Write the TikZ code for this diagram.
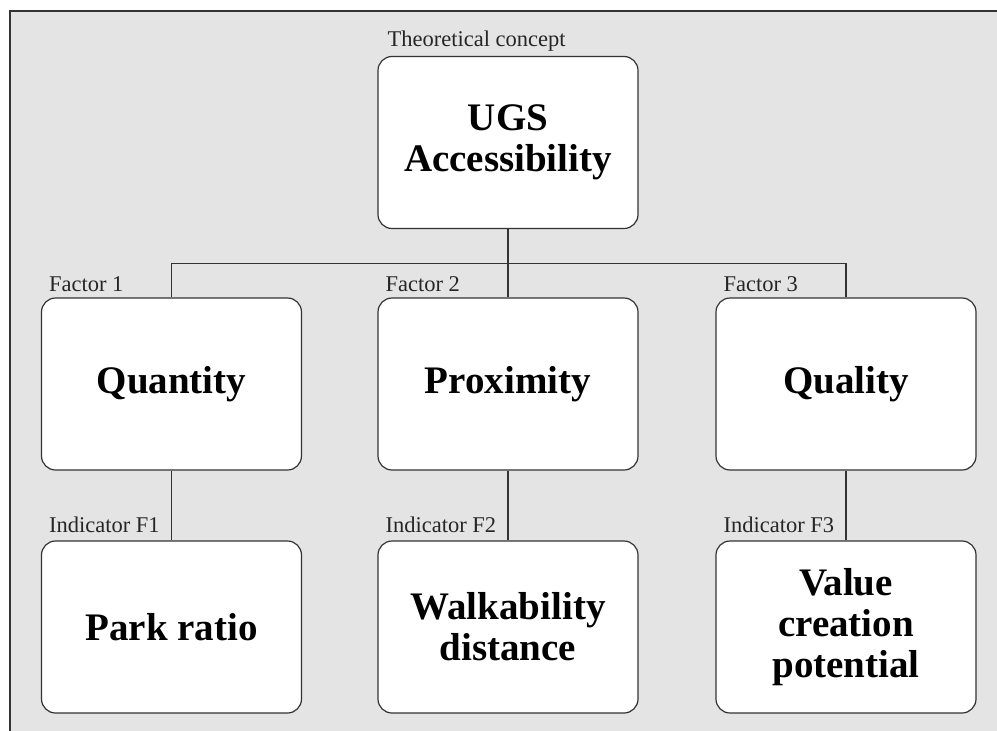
\documentclass[tikz,border=0pt]{standalone}
\usepackage{fontspec}
\setmainfont{Liberation Serif}
\definecolor{bggray}{HTML}{E4E4E4}
\definecolor{edge}{HTML}{333333}
\tikzset{
  box/.style={draw=edge, fill=white, line width=1.2pt, rounded corners=14pt,
    minimum width=260pt, minimum height=172pt, inner sep=0pt, align=center,
    font=\fontsize{39}{41}\selectfont\bfseries},
  lab/.style={anchor=base west, inner sep=0pt, text=black!85,
    font=\fontsize{22.5}{27}\selectfont},
  conn/.style={draw=edge, line width=1.2pt}
}
\begin{document}
\begin{tikzpicture}[x=1pt, y=-1pt]
\useasboundingbox (0,0) rectangle (997,731);
\fill[bggray] (10,11) rectangle (997,731);
\draw[line width=1.6pt, black!80] (10,731) -- (10,11) -- (997,11);

\node[box] (top) at (508,142.5) {UGS\\Accessibility};
\node[box] (f1) at (171.5,384) {Quantity};
\node[box] (f2) at (508,384) {Proximity};
\node[box] (f3) at (846,384) {Quality};
\node[box] (i1) at (171.5,627) {Park ratio};
\node[box] (i2) at (508,627) {Walkability\\distance};
\node[box] (i3) at (846,627) {Value\\creation\\potential};

\node[lab, xshift=10pt, yshift=9pt] (ltop) at (top.north west) {Theoretical concept};
\node[lab, xshift=8pt, yshift=6pt] (lf1) at (f1.north west) {Factor 1};
\node[lab, xshift=8pt, yshift=6pt] (lf2) at (f2.north west) {Factor 2};
\node[lab, xshift=8pt, yshift=6pt] (lf3) at (f3.north west) {Factor 3};
\node[lab, xshift=8pt, yshift=8pt] (li1) at (i1.north west) {Indicator F1};
\node[lab, xshift=8pt, yshift=8pt] (li2) at (i2.north west) {Indicator F2};
\node[lab, xshift=8pt, yshift=8pt] (li3) at (i3.north west) {Indicator F3};

\coordinate (hub) at (508,263.5);
\draw[conn] (top.south) -- (hub);
\draw[conn] (hub) -| (f1.north);
\draw[conn] (hub) -| (f3.north);
\draw[conn] (hub) -- (f2.north);
\draw[conn] (f1.south) -- (i1.north);
\draw[conn] (f2.south) -- (i2.north);
\draw[conn] (f3.south) -- (i3.north);
\end{tikzpicture}
\end{document}
